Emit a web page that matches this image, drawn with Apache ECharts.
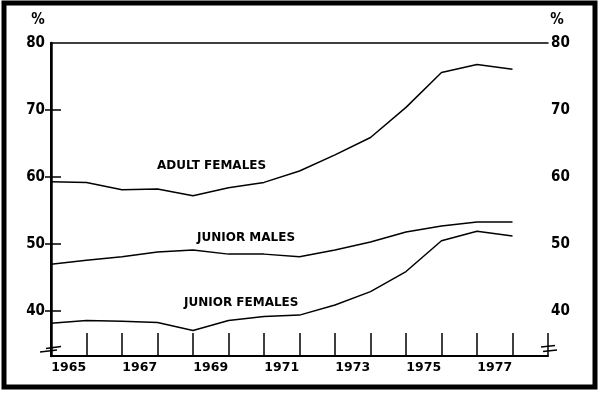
<!DOCTYPE html>
<html>
<head>
<meta charset="utf-8">
<script src="https://cdn.jsdelivr.net/npm/echarts@6/dist/echarts.min.js"></script>
<style>html,body{margin:0;padding:0;background:#fff}#c{width:600px;height:393px}</style>
</head>
<body>
<div id="c"></div>
<script>
// Category labels (year bands); data points sit on band boundaries (mid-year)
const years = ['1965','1966','1967','1968','1969','1970','1971','1972','1973','1974','1975','1976','1977','1978'];
const yTickLabels = [40, 50, 60, 70, 80];
const adultFemales  = [59.3, 59.2, 58.1, 58.2, 57.2, 58.4, 59.2, 60.9, 63.3, 65.9, 70.4, 75.6, 76.8, 76.1];
const juniorMales   = [47.0, 47.6, 48.1, 48.8, 49.1, 48.5, 48.5, 48.1, 49.1, 50.3, 51.8, 52.7, 53.3, 53.3];
const juniorFemales = [38.2, 38.6, 38.5, 38.3, 37.1, 38.6, 39.2, 39.4, 40.9, 42.9, 45.9, 50.5, 51.9, 51.2];

const chart = echarts.init(document.getElementById('c'), null, {renderer: 'canvas'});
const toPairs = arr => arr.map((v, i) => [i, v]);
const lineStyle = {color: '#000', width: 1.5};
const yLabelFont = {color: '#000', fontFamily: 'DejaVu Sans Condensed, DejaVu Sans', fontWeight: 'bold', fontSize: 15};
const annFont = {fill: '#000', fontFamily: 'DejaVu Sans', fontWeight: 'bold', fontSize: 12};

chart.setOption({
  animation: false,
  backgroundColor: '#fff',
  grid: {left: 51, right: 52, top: 43, bottom: 37, containLabel: false},
  xAxis: [
    {type: 'value', min: 0, max: years.length, interval: 1, position: 'bottom',
     axisLine: {show: true, lineStyle: {color: '#000', width: 2}},
     axisTick: {show: true, inside: true, length: 23, lineStyle: {color: '#000', width: 1.5}},
     axisLabel: {show: false}, splitLine: {show: false}},
    {type: 'category', data: years, boundaryGap: true, position: 'bottom',
     axisLine: {show: false}, axisTick: {show: false}, splitLine: {show: false},
     axisLabel: {interval: 1, margin: 5, color: '#000', fontFamily: 'DejaVu Sans', fontWeight: 'bold', fontSize: 12.5}},
    {type: 'value', min: 0, max: 1, position: 'top',
     axisLine: {show: true, lineStyle: {color: '#000', width: 1.5}},
     axisTick: {show: false}, axisLabel: {show: false}, splitLine: {show: false}}
  ],
  yAxis: [
    {type: 'value', min: 33.3, max: 80, position: 'left',
     axisLine: {show: true, lineStyle: {color: '#000', width: 2.5}},
     axisTick: {show: true, inside: true, length: 10, customValues: [40, 50, 60, 70], lineStyle: {color: '#000', width: 1.5}},
     axisLabel: Object.assign({customValues: yTickLabels, margin: 6}, yLabelFont),
     splitLine: {show: false}},
    {type: 'value', min: 33.3, max: 80, position: 'right',
     axisLine: {show: true, lineStyle: {color: '#000', width: 2}},
     axisTick: {show: true, inside: true, length: 6, customValues: [40, 50, 60, 70], lineStyle: {color: '#000', width: 1.5}},
     axisLabel: Object.assign({customValues: yTickLabels, margin: 3}, yLabelFont),
     splitLine: {show: false}}
  ],
  series: [
    {name: 'ADULT FEMALES', type: 'line', xAxisIndex: 0, yAxisIndex: 0, data: toPairs(adultFemales), symbol: 'none', lineStyle: lineStyle},
    {name: 'JUNIOR MALES', type: 'line', xAxisIndex: 0, yAxisIndex: 0, data: toPairs(juniorMales), symbol: 'none', lineStyle: lineStyle},
    {name: 'JUNIOR FEMALES', type: 'line', xAxisIndex: 0, yAxisIndex: 0, data: toPairs(juniorFemales), symbol: 'none', lineStyle: lineStyle}
  ],
  graphic: [
    {type: 'rect', shape: {x: 4, y: 3, width: 591, height: 384}, style: {fill: 'none', stroke: '#000', lineWidth: 5}, silent: true},
    {type: 'text', x: 38, y: 20, style: Object.assign({text: '%', align: 'center', verticalAlign: 'middle'}, {fill: '#000', fontFamily: 'DejaVu Sans Condensed, DejaVu Sans', fontWeight: 'bold', fontSize: 15})},
    {type: 'text', x: 557, y: 20, style: Object.assign({text: '%', align: 'center', verticalAlign: 'middle'}, {fill: '#000', fontFamily: 'DejaVu Sans Condensed, DejaVu Sans', fontWeight: 'bold', fontSize: 15})},
    {type: 'text', x: 157, y: 166, style: Object.assign({text: 'ADULT FEMALES', verticalAlign: 'middle'}, annFont)},
    {type: 'text', x: 197, y: 238, style: Object.assign({text: 'JUNIOR MALES', verticalAlign: 'middle'}, annFont)},
    {type: 'text', x: 184, y: 303, style: Object.assign({text: 'JUNIOR FEMALES', verticalAlign: 'middle'}, annFont)},
    {type: 'line', shape: {x1: 46, y1: 348.5, x2: 61, y2: 346.5}, style: {stroke: '#000', lineWidth: 1.5}},
    {type: 'line', shape: {x1: 40, y1: 352, x2: 57, y2: 350}, style: {stroke: '#000', lineWidth: 1.5}},
    {type: 'line', shape: {x1: 541, y1: 347, x2: 555, y2: 345.5}, style: {stroke: '#000', lineWidth: 1.5}},
    {type: 'line', shape: {x1: 543, y1: 351.5, x2: 557, y2: 350}, style: {stroke: '#000', lineWidth: 1.5}}
  ]
});
</script>
</body>
</html>
